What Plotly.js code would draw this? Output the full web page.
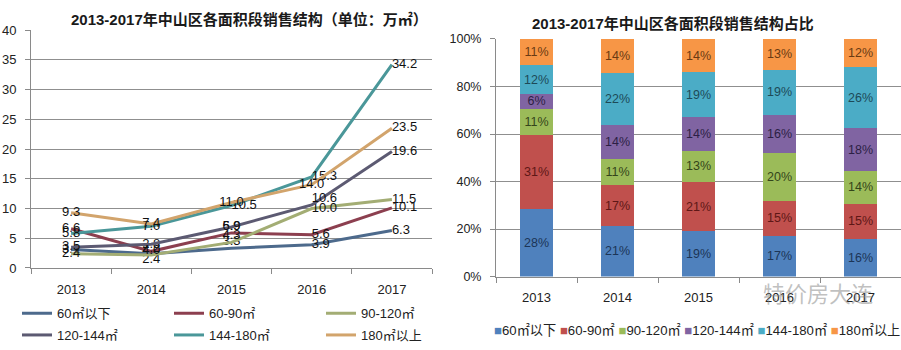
<!DOCTYPE html>
<html>
<head>
<meta charset="utf-8">
<script src="https://cdn.plot.ly/plotly-3.0.1.min.js"></script>
<style>html,body{margin:0;padding:0;background:#fff;}#chart{width:901px;height:350px;}</style>
</head>
<body>
<div id="chart"></div>
<script>
// ---- data ----
const years = ['2013', '2014', '2015', '2016', '2017'];
const seriesNames = ['60㎡以下', '60-90㎡', '90-120㎡', '120-144㎡', '144-180㎡', '180㎡以上'];
// left chart: sales area (万㎡)
const area60 = [3.1, 2.4, 3.3, 3.9, 6.3];
const area60to90 = [6.6, 2.8, 5.9, 5.6, 10.1];
const area90to120 = [2.4, 2.2, 4.3, 10.0, 11.5];
const area120to144 = [3.5, 4.0, 6.9, 10.6, 19.6];
const area144to180 = [5.8, 7.0, 10.5, 15.3, 34.2];
const area180 = [9.3, 7.4, 11.0, 14.0, 23.5];
// right chart: share (%)
const share60 = [28, 21, 19, 17, 16];
const share60to90 = [31, 17, 21, 15, 15];
const share90to120 = [11, 11, 13, 20, 14];
const share120to144 = [6, 14, 14, 16, 18];
const share144to180 = [12, 22, 19, 19, 26];
const share180 = [11, 14, 14, 13, 12];
const leftTitle = '2013-2017年中山区各面积段销售结构（单位：万㎡）';
const rightTitle = '2013-2017年中山区各面积段销售结构占比';
const watermark = '特价房大连';

// ---- styles ----
const FONT = 'Liberation Sans, Arial, "Noto Sans CJK SC", sans-serif';
const lineColors = ['#4d6a8c', '#8c3f4f', '#a3ad74', '#5c5a72', '#4a9799', '#d2a46c'];
const barColors = ['#4f81bd', '#c0504d', '#9bbb59', '#8064a2', '#4bacc6', '#f79646'];
const barTextColors = ['#1c3557', '#5e1716', '#34451a', '#2c1f45', '#1d4a58', '#6a3a12'];
const W = 901, H = 350;
const py = p => 1 - p / H;
const px = p => p / W;

const areaSeries = [area60, area60to90, area90to120, area120to144, area144to180, area180];
const shareSeries = [share60, share60to90, share90to120, share120to144, share144to180, share180];
const labelPositions = [
  ['middle center', 'bottom center', 'top center', 'middle right', 'middle right'],
  ['middle center', 'top center', 'top center', 'middle right', 'middle right'],
  ['middle center', 'top center', 'top center', 'middle right', 'middle right'],
  ['middle center', 'bottom center', 'middle center', 'top right', 'middle right'],
  ['middle center', 'middle center', 'middle right', 'middle right', 'middle right'],
  ['middle center', 'middle center', 'middle center', 'middle center', 'middle right']
];

const traces = [];
areaSeries.forEach((vals, i) => {
  traces.push({
    type: 'scatter', mode: 'lines+text', x: years, y: vals,
    name: seriesNames[i], xaxis: 'x', yaxis: 'y',
    line: {color: lineColors[i], width: 3},
    text: vals.map(v => v.toFixed(1)), textposition: labelPositions[i],
    textfont: {family: FONT, size: 13, color: '#111'},
    legend: i < 3 ? 'legend' : 'legend2',
    hoverinfo: 'skip', cliponaxis: false
  });
});
shareSeries.forEach((vals, i) => {
  traces.push({
    type: 'bar', x: years, y: vals, name: seriesNames[i],
    xaxis: 'x2', yaxis: 'y2', showlegend: false,
    marker: {color: barColors[i], line: {width: 0}},
    text: vals.map(v => v + '%'), textposition: 'inside', insidetextanchor: 'middle',
    textangle: 0, constraintext: 'none',
    textfont: {family: FONT, size: 12.5, color: barTextColors[i]},
    hoverinfo: 'skip'
  });
});

const axisCommon = {
  showline: true, linecolor: '#8a8a8a', linewidth: 1, ticks: 'outside', ticklen: 5,
  tickcolor: '#8a8a8a', tickfont: {family: FONT, size: 13, color: '#222'}, zeroline: false,
  fixedrange: true
};

const legendCommon = {
  orientation: 'h', xanchor: 'left', yanchor: 'middle', entrywidth: 107,
  traceorder: 'normal',
  font: {family: FONT, size: 13, color: '#222'}, bgcolor: 'rgba(0,0,0,0)', itemwidth: 30,
  tracegroupgap: 0
};

const legendText = seriesNames.map((n, i) =>
  '<span style="color:' + barColors[i] + '">■</span>' + n).join(' ');

const layout = {
  width: W, height: H, margin: {l: 0, r: 0, t: 0, b: 0},
  paper_bgcolor: '#fff', plot_bgcolor: '#fff',
  barmode: 'stack', barnorm: 'percent', bargap: 0.6,
  showlegend: true,
  xaxis: Object.assign({}, axisCommon, {
    domain: [px(31), px(432)], anchor: 'y', type: 'category', range: [-0.5, 4.5],
    tickson: 'boundaries', showgrid: false, ticklabelstandoff: 9
  }),
  yaxis: Object.assign({}, axisCommon, {
    domain: [py(270.3), py(30.3)], anchor: 'x', range: [0, 40], dtick: 5,
    showgrid: true, gridcolor: '#8f8f8f', gridwidth: 1, ticklabelstandoff: 6
  }),
  xaxis2: Object.assign({}, axisCommon, {
    domain: [px(496), 1], anchor: 'y2', type: 'category', range: [-0.5, 4.5],
    tickson: 'boundaries', showgrid: false, ticklabelstandoff: 9
  }),
  yaxis2: Object.assign({}, axisCommon, {
    domain: [py(279), py(39.3)], anchor: 'x2', range: [0, 100], dtick: 20, ticksuffix: '%',
    showgrid: true, gridcolor: '#8f8f8f', gridwidth: 1, ticklabelstandoff: 6,
    tickfont: {family: FONT, size: 12.5, color: '#222'}
  }),
  legend: Object.assign({}, legendCommon, {x: px(17), y: py(316)}),
  legend2: Object.assign({}, legendCommon, {x: px(17), y: py(338)}),
  annotations: [
    {text: '<b>' + leftTitle + '</b>', xref: 'paper', yref: 'paper', x: px(249), y: py(20),
     xanchor: 'center', yanchor: 'middle', showarrow: false,
     font: {family: FONT, size: 15, color: '#1a1a1a'}},
    {text: '<b>' + rightTitle + '</b>', xref: 'paper', yref: 'paper', x: px(673), y: py(24),
     xanchor: 'center', yanchor: 'middle', showarrow: false,
     font: {family: FONT, size: 15, color: '#1a1a1a'}},
    {text: legendText, xref: 'paper', yref: 'paper', x: px(492), y: py(333),
     xanchor: 'left', yanchor: 'middle', showarrow: false,
     font: {family: FONT, size: 13.2, color: '#222'}},
    {text: watermark, xref: 'paper', yref: 'paper', x: px(818), y: py(297),
     xanchor: 'center', yanchor: 'middle', showarrow: false,
     font: {family: FONT, size: 22, color: 'rgba(130,130,130,0.5)'}}
  ]
};

Plotly.newPlot('chart', traces, layout, {staticPlot: true, displayModeBar: false});
</script>
</body>
</html>
